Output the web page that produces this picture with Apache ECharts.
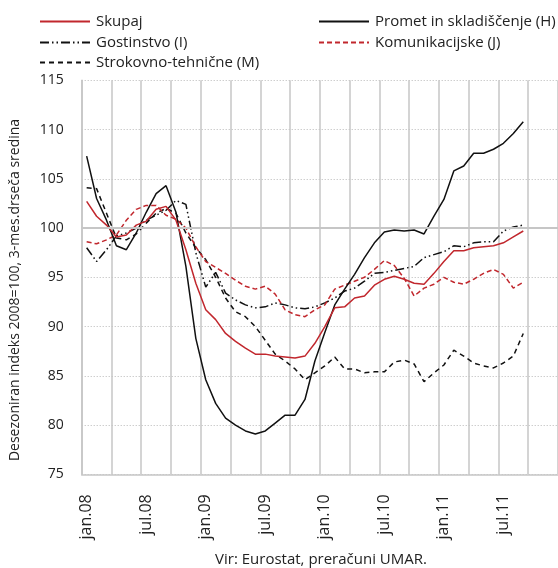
<!DOCTYPE html>
<html>
<head>
<meta charset="utf-8">
<script src="https://cdn.jsdelivr.net/npm/echarts@6/dist/echarts.min.js"></script>
<style>
  html, body { margin: 0; padding: 0; background: #fff; }
  #chart { width: 558px; height: 568px; }
</style>
</head>
<body>
<div id="chart"></div>
<script>
const monthNames = ['jan', 'feb', 'mar', 'apr', 'maj', 'jun', 'jul', 'avg', 'sep', 'okt', 'nov', 'dec']
const years = ['08', '09', '10', '11']
const categories = []
years.forEach(y => monthNames.forEach(m => categories.push(m + '.' + y)))

const yTicks = { min: 75, max: 115, step: 5 }

const skupaj = [102.7, 101.2, 100.3, 99.1, 99.3, 100.3, 100.7, 101.9, 102.2, 100.8, 97.8, 94.4, 91.7, 90.7, 89.3, 88.5, 87.8, 87.2, 87.2, 87.0, 86.9, 86.8, 87.0, 88.3, 90.0, 91.9, 92.0, 92.9, 93.1, 94.2, 94.8, 95.1, 94.8, 94.4, 94.3, 95.4, 96.6, 97.7, 97.7, 98.0, 98.1, 98.2, 98.5, 99.1, 99.7]
const promet = [107.3, 103.0, 100.8, 98.2, 97.8, 99.5, 101.6, 103.5, 104.3, 101.6, 96.1, 88.8, 84.6, 82.2, 80.7, 80.0, 79.4, 79.1, 79.4, 80.2, 81.0, 81.0, 82.6, 86.5, 89.4, 92.2, 93.8, 95.3, 97.0, 98.5, 99.6, 99.8, 99.7, 99.8, 99.4, 101.2, 102.9, 105.8, 106.3, 107.6, 107.6, 108.0, 108.6, 109.6, 110.8]
const gostinstvo = [98.0, 96.6, 97.8, 99.2, 99.5, 100.0, 100.8, 101.3, 101.8, 102.8, 102.4, 97.5, 94.0, 95.5, 93.4, 92.7, 92.2, 91.9, 92.0, 92.4, 92.2, 91.9, 91.8, 92.0, 92.4, 92.9, 93.6, 93.9, 94.6, 95.4, 95.5, 95.7, 95.9, 96.1, 97.0, 97.3, 97.6, 98.2, 98.1, 98.5, 98.6, 98.6, 99.7, 100.1, 100.3]
const komunikacijske = [98.6, 98.4, 98.8, 99.3, 100.8, 101.9, 102.3, 102.3, 101.3, 100.9, 100.0, 98.1, 96.6, 96.0, 95.4, 94.7, 94.1, 93.8, 94.1, 93.3, 91.7, 91.2, 91.0, 91.7, 92.2, 93.8, 94.2, 94.6, 95.0, 95.8, 96.7, 96.2, 94.9, 93.1, 93.9, 94.3, 95.0, 94.5, 94.3, 94.8, 95.4, 95.8, 95.3, 93.9, 94.5]
const strokovno = [104.1, 104.0, 101.5, 99.0, 98.8, 99.4, 100.5, 101.5, 102.0, 101.5, 99.5, 98.0, 96.8, 95.0, 92.9, 91.5, 91.0, 90.0, 88.6, 87.2, 86.5, 85.7, 84.6, 85.3, 86.0, 86.9, 85.7, 85.7, 85.3, 85.4, 85.4, 86.4, 86.6, 86.2, 84.4, 85.3, 86.1, 87.6, 87.0, 86.3, 86.0, 85.8, 86.3, 87.0, 89.3]

const RED = '#c1272d'
const FONT = 'Open Sans'

const chart = echarts.init(document.getElementById('chart'))

const legendAt = (name, left, top) => ({
  data: [name],
  left, top,
  itemWidth: 50,
  itemHeight: 14,
  itemGap: 0,
  padding: 0,
  itemStyle: { opacity: 0, borderWidth: 0 },
  textStyle: { fontFamily: FONT, fontSize: 15, color: '#222', padding: [0, 0, 0, 1] },
  selectedMode: false
})

const lineSeries = (name, data, color, type) => ({
  name,
  type: 'line',
  data,
  symbol: 'none',
  z: 3,
  lineStyle: { color, width: 1.5, type },
  itemStyle: { color }
})

const option = {
  animation: false,
  textStyle: { fontFamily: FONT },
  grid: { left: 81.7, top: 80.3, right: 0, bottom: 93.7 },
  legend: [
    legendAt('Skupaj', 39, 14),
    legendAt('Promet in skladiščenje (H)', 318, 14),
    legendAt('Gostinstvo (I)', 39, 35),
    legendAt('Komunikacijske (J)', 318, 35),
    legendAt('Strokovno-tehnične (M)', 39, 55)
  ],
  xAxis: {
    type: 'category',
    data: categories,
    boundaryGap: true,
    axisLine: { show: true, lineStyle: { color: '#c6c6c6', width: 1.5 } },
    axisTick: { show: false },
    axisLabel: {
      interval: 5,
      rotate: 90,
      margin: 20,
      fontFamily: FONT,
      fontSize: 16,
      color: '#222'
    },
    splitLine: { show: true, interval: 2, lineStyle: { color: '#c6c6c6', width: 1.5 } }
  },
  yAxis: {
    type: 'value',
    min: yTicks.min,
    max: yTicks.max,
    interval: yTicks.step,
    axisLine: { show: true, lineStyle: { color: '#c6c6c6', width: 1.5 } },
    axisTick: { show: false },
    axisLabel: { margin: 18, fontFamily: FONT, fontSize: 14, color: '#222' },
    splitLine: { lineStyle: { color: '#b8b8b8', width: 1, type: [1, 2] } }
  },
  graphic: [
    {
      type: 'text',
      x: 15,
      y: 290,
      rotation: Math.PI / 2,
      style: {
        text: 'Desezoniran indeks 2008=100, 3-mes.drseča sredina',
        font: '14px "Open Sans"',
        fill: '#222',
        align: 'center',
        verticalAlign: 'middle'
      }
    },
    {
      type: 'text',
      x: 321,
      y: 560,
      style: {
        text: 'Vir: Eurostat, preračuni UMAR.',
        font: '15px "Open Sans"',
        fill: '#222',
        align: 'center',
        verticalAlign: 'middle'
      }
    }
  ],
  series: [
    {
      type: 'line',
      data: [],
      z: 1,
      markLine: {
        silent: true,
        symbol: 'none',
        label: { show: false },
        lineStyle: { color: '#c6c6c6', width: 2, type: 'solid' },
        data: [{ yAxis: 100 }]
      }
    },
    lineSeries('Strokovno-tehnične (M)', strokovno, '#111', [5, 4]),
    lineSeries('Gostinstvo (I)', gostinstvo, '#111', [9, 3, 1.5, 3, 1.5, 3]),
    lineSeries('Komunikacijske (J)', komunikacijske, RED, [5, 3]),
    lineSeries('Promet in skladiščenje (H)', promet, '#111', 'solid'),
    lineSeries('Skupaj', skupaj, RED, 'solid')
  ]
}

chart.setOption(option)
</script>
</body>
</html>
